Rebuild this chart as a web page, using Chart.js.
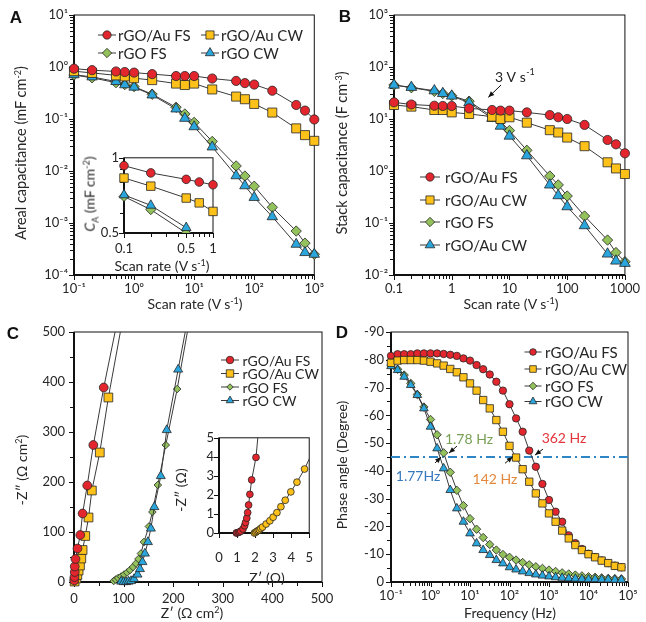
<!DOCTYPE html>
<html>
<head>
<meta charset="utf-8">
<script src="https://cdn.jsdelivr.net/npm/chart.js@4.4.1/dist/chart.umd.min.js"></script>
<style>
  body { margin: 0; background: #fff; }
  #fig { position: relative; width: 646px; height: 622px; overflow: hidden; font-family: Lato, sans-serif; color: #262626; }
  canvas { position: absolute; }
  .t { position: absolute; white-space: nowrap; font-size: 14px; line-height: 1; transform: translate(-50%, -50%); }
  .r { transform: translate(-50%, -50%) rotate(-90deg); }
  .t sup { font-size: 9px; vertical-align: 5px; line-height: 0; }
  .lt { position: absolute; font: bold 17px "Liberation Sans", Arial, sans-serif; transform: translate(-50%, -50%); color: #111; }
</style>
</head>
<body>
<div id="fig">
  <canvas id="cA"></canvas>
  <canvas id="cAin"></canvas>
  <canvas id="cB"></canvas>
  <canvas id="cC"></canvas>
  <canvas id="cCin"></canvas>
  <canvas id="cD"></canvas>

  <div class="lt" style="left:16px;top:18px">A</div>
  <div class="lt" style="left:345px;top:17px">B</div>
  <div class="lt" style="left:13px;top:334px">C</div>
  <div class="lt" style="left:342px;top:333px">D</div>

  <div class="t r" style="left:21px;top:153px;font-size:14.5px">Areal capacitance (mF cm<sup>-2</sup>)</div>
  <div class="t" style="left:195px;top:304px">Scan rate (V s<sup>-1</sup>)</div>
  <div class="t r" style="left:91px;top:194px"><i>C</i><sub style="font-size:9px">A</sub> (mF cm<sup>-2</sup>)</div>
  <div class="t" style="left:162px;top:266px">Scan rate (V s<sup>-1</sup>)</div>
  <div class="t r" style="left:342px;top:153px;font-size:14.5px">Stack capacitance (F cm<sup>-3</sup>)</div>
  <div class="t" style="left:511px;top:304px">Scan rate (V s<sup>-1</sup>)</div>
  <div class="t r" style="left:22px;top:470px">-Z″ (Ω cm<sup>2</sup>)</div>
  <div class="t" style="left:192px;top:613px">Z′ (Ω cm<sup>2</sup>)</div>
  <div class="t r" style="left:181px;top:490px">-Z″ (Ω)</div>
  <div class="t" style="left:267px;top:578px">Z′ (Ω)</div>
  <div class="t r" style="left:342px;top:465px">Phase angle (Degree)</div>
  <div class="t" style="left:510px;top:613px">Frequency (Hz)</div>
</div>

<script>
// ---- datos ----
const legendNames = ['rGO/Au FS', 'rGO/Au CW', 'rGO FS', 'rGO CW'];
const legendNamesB = ['rGO/Au FS', 'rGO/Au CW', 'rGO FS', 'rGO/Au CW'];

// A y B: velocidad de barrido (V/s)
const rates = [0.1, 0.2, 0.5, 0.7, 1, 2, 5, 7, 10, 20, 50, 70, 100, 200, 500, 700, 1000];
// A: capacitancia areal (mF cm-2)
const areaAuFS = [0.93, 0.87, 0.82, 0.80, 0.78, 0.73, 0.67, 0.67, 0.67, 0.60, 0.54, 0.49, 0.46, 0.35, 0.186, 0.145, 0.098];
const areaAuCW = [0.83, 0.77, 0.69, 0.66, 0.61, 0.56, 0.48, 0.45, 0.48, 0.37, 0.27, 0.24, 0.195, 0.133, 0.066, 0.049, 0.038];
const areaFS   = [0.70, 0.62, 0.50, 0.46, 0.42, 0.30, 0.168, 0.125, 0.086, 0.037, 0.0125, 0.008, 0.0051, 0.0020, 0.0007, 0.00041, 0.00025];
const areaCW   = [0.71, 0.645, 0.525, 0.455, 0.41, 0.29, 0.156, 0.103, 0.071, 0.029, 0.0081, 0.0052, 0.0031, 0.00132, 0.00039, 0.00027, 0.00025];
// B: capacitancia volumetrica (F cm-3)
const stackAuFS = [20.9, 19, 18, 17.8, 17.8, 16, 14.9, 14.5, 14.5, 13.4, 11.9, 10.8, 10, 7.7, 3.95, 3.26, 2.19];
const stackAuCW = [18.6, 17.3, 14.9, 14.9, 13.4, 12.5, 11.1, 10, 10.8, 8.5, 6.1, 5.5, 4.4, 3.0, 1.47, 1.12, 0.875];
const stackFS   = [45, 40, 34, 31, 28, 22, 11.1, 8.9, 6.0, 2.5, 0.80, 0.54, 0.33, 0.136, 0.047, 0.027, 0.018];
const stackCW   = [45, 40.7, 35, 31, 27.7, 20.6, 10.3, 7.3, 4.7, 1.97, 0.54, 0.336, 0.206, 0.089, 0.0254, 0.0186, 0.0168];

// C: Nyquist (ohm cm2), el ultimo punto sale por arriba del eje
const zReAuFS = [0.5, 1, 1.5, 1.5, 3, 7, 12.7, 17.3, 26.7, 39, 60, 89];
const zImAuFS = [3, 10, 20, 31, 46, 67, 94, 137, 193, 274, 389, 530];
const zReAuCW = [1.3, 4.7, 6.7, 9.3, 12, 14.7, 17.3, 22.7, 29.3, 36, 52, 69.3, 99];
const zImAuCW = [1, 7, 14, 23, 33, 47, 64, 92, 129, 183, 259, 369, 530];
const zReFS = [80, 84, 89, 95, 101, 107, 113, 119, 125, 130, 135, 141, 151, 158, 169, 185, 208, 234];
const zImFS = [2, 5, 8, 11, 15, 19, 24, 30, 37, 46, 57, 80, 111, 140, 194, 274, 386, 530];
const zReCW = [95, 100, 105, 110, 115, 121, 128, 133, 138, 143, 149, 155, 162, 175, 187, 210, 230];
const zImCW = [1, 0, 0, 1, 2, 6, 15, 26, 40, 57, 80, 107, 150, 212, 304, 425, 530];
// C recuadro (ohm)
const inReAuFS = [0.96, 1.0, 1.08, 1.15, 1.21, 1.33, 1.42, 1.47, 1.54, 1.59, 1.64, 1.71, 1.81, 2.05, 2.2];
const inImAuFS = [0.0, 0.01, 0.03, 0.06, 0.10, 0.21, 0.38, 0.55, 0.78, 1.07, 1.47, 2.03, 2.79, 3.97, 5.5];
const inReAuCW = [1.96, 2.03, 2.10, 2.17, 2.24, 2.32, 2.41, 2.61, 2.82, 3.0, 3.21, 3.43, 3.67, 3.98, 4.32, 4.74, 5.3];
const inImAuCW = [0.0, 0.04, 0.09, 0.13, 0.17, 0.24, 0.31, 0.47, 0.64, 0.83, 1.07, 1.38, 1.72, 2.16, 2.67, 3.36, 4.5];

// D: Bode (grados)
const freqHz = [0.1, 0.1468, 0.2154, 0.3162, 0.4642, 0.6813, 1, 1.468, 2.154, 3.162, 4.642, 6.813,
  10, 14.68, 21.54, 31.62, 46.42, 68.13, 100, 146.8, 215.4, 316.2, 464.2, 681.3,
  1000, 1468, 2154, 3162, 4642, 6813, 10000, 14680, 21540, 31620, 46420, 68130];
const phaseAuFS = [-81.4, -82.0, -82.0, -82.0, -82.3, -82.3, -82.3, -82.3, -82.1, -81.8, -81.4, -80.5,
  -79.7, -78.1, -76.6, -74.7, -72.1, -68.9, -64.0, -58.9, -54.1, -47.3, -41.5, -35.3,
  -29.5, -25.3, -21.7, -16.8, -14.0, -11.9, -10.2, -9.0, -7.8, -6.8, -5.9, -5.3];
const phaseAuCW = [-78.9, -79.7, -79.9, -79.9, -79.9, -79.7, -79.3, -78.7, -77.9, -76.7, -75.5, -73.7,
  -71.5, -68.9, -65.5, -62.5, -58.3, -54.1, -49.0, -44.8, -40.6, -36.1, -31.9, -28.3,
  -24.7, -21.7, -18.5, -15.7, -13.3, -11.5, -10.0, -8.9, -7.7, -6.8, -5.8, -5.3];
const phaseFS = [-78.1, -76.6, -74.5, -71.5, -67.5, -63.0, -58.5, -53.0, -46.5, -39.5, -33.0, -27.5,
  -22.8, -19.0, -16.0, -13.5, -11.5, -9.9, -8.9, -7.9, -7.0, -6.2, -5.5, -4.9,
  -4.3, -3.8, -3.3, -2.9, -2.5, -2.2, -1.9, -1.7, -1.5, -1.3, -1.2, -1.1];
const phaseCW = [-77.7, -76.3, -73.9, -70.9, -67.3, -62.5, -55.9, -48.1, -40.9, -33.1, -26.5, -21.7,
  -17.5, -13.9, -11.5, -9.7, -7.9, -6.7, -5.3, -4.5, -3.8, -3.2, -2.7, -2.3,
  -2.0, -1.7, -1.5, -1.3, -1.2, -1.1, -1.0, -1.0, -0.9, -0.9, -0.8, -0.8];
const halfHz = [0.1, 100000];
const halfPhase = [-45, -45];

// etiquetas de los ejes
const ticksAx = ['10⁻¹', '10⁰', '10¹', '10²', '10³'];
const ticksAy = ['10⁻⁴', '10⁻³', '10⁻²', '10⁻¹', '10⁰', '10¹'];
const ticksBx = ['0.1', '1', '10', '100', '1000'];
const ticksBy = ['10⁻²', '10⁻¹', '10⁰', '10¹', '10²', '10³'];
const ticksDx = ['10⁻¹', '10⁰', '10¹', '10²', '10³', '10⁴', '10⁵'];
const ticksAinX = [0.1, 0.5, 1];
const ticksAinY = [0.5, 1];

// ---- estilos ----
const LINE = '#3a3a3a';
const EDGE = '#262626';
const look = [
  { fill: '#e3262d', shape: 'circle' },
  { fill: '#fdc11a', shape: 'rect' },
  { fill: '#93c15b', shape: 'rectRot' },
  { fill: '#2aa6dd', shape: 'triangle' }
];

function pts(xs, ys) {
  return xs.map((x, i) => ({ x: x, y: ys[i] }));
}

function serie(label, xs, ys, k, r, more) {
  return Object.assign({
    label: label,
    data: pts(xs, ys),
    borderColor: LINE,
    borderWidth: 1,
    pointBackgroundColor: look[k].fill,
    pointBorderColor: EDGE,
    pointBorderWidth: 0.8,
    pointStyle: look[k].shape,
    pointRadius: r,
    tension: 0,
    clip: false,
    order: k === 2 ? 1 : 0, // los triangulos quedan encima de los rombos
    look: k
  }, more || {});
}

function logTicks(min, max) {
  const out = [];
  for (let e = Math.floor(Math.log10(min)); e <= Math.ceil(Math.log10(max)); e++) {
    for (let m = 1; m < 10; m++) {
      const v = +(m * Math.pow(10, e)).toPrecision(6);
      if (v >= min * 0.999 && v <= max * 1.001) out.push(v);
    }
  }
  return out;
}

function decade(labels, firstExp) {
  return v => {
    const l = Math.log10(v);
    const e = Math.round(l);
    return Math.abs(l - e) < 1e-6 ? labels[e - firstExp] : '';
  };
}

function tickFont(size) {
  return { family: 'Lato', size: size || 13 };
}

// dibuja un marcador igual que Chart.js
function mark(ctx, shape, x, y, r, fill) {
  ctx.beginPath();
  if (shape === 'circle') {
    ctx.arc(x, y, r, 0, Math.PI * 2);
  } else if (shape === 'rect') {
    const s = r * Math.SQRT1_2;
    ctx.rect(x - s, y - s, 2 * s, 2 * s);
  } else if (shape === 'rectRot') {
    ctx.moveTo(x - r, y); ctx.lineTo(x, y - r); ctx.lineTo(x + r, y); ctx.lineTo(x, y + r);
    ctx.closePath();
  } else {
    for (let k = 0; k < 3; k++) {
      const a = k * 2 * Math.PI / 3;
      const px = x + Math.sin(a) * r, py = y - Math.cos(a) * r;
      if (k) ctx.lineTo(px, py); else ctx.moveTo(px, py);
    }
    ctx.closePath();
  }
  ctx.fillStyle = fill;
  ctx.fill();
  ctx.lineWidth = 0.8;
  ctx.strokeStyle = EDGE;
  ctx.stroke();
}

// marco + marcas de los ejes
const frame = {
  id: 'frame',
  beforeDatasetsDraw(chart) {
    const ctx = chart.ctx, a = chart.chartArea;
    const xs = chart.scales.x, ys = chart.scales.y;
    ctx.save();
    ctx.strokeStyle = '#111';
    ctx.lineWidth = 1;
    ctx.strokeRect(a.left, a.top, a.right - a.left, a.bottom - a.top);
    ctx.lineWidth = 2;
    ctx.beginPath();
    ctx.moveTo(a.left, a.top);
    ctx.lineTo(a.left, a.bottom);
    ctx.lineTo(a.right, a.bottom);
    ctx.stroke();
    ctx.lineWidth = 1;
    ctx.beginPath();
    xs.ticks.forEach(t => {
      const p = Math.round(xs.getPixelForValue(t.value)) + 0.5;
      ctx.moveTo(p, a.bottom);
      ctx.lineTo(p, a.bottom + (t.label ? 5 : 4));
    });
    ys.ticks.forEach(t => {
      const p = Math.round(ys.getPixelForValue(t.value)) + 0.5;
      ctx.moveTo(a.left, p);
      ctx.lineTo(a.left - (t.label ? 5 : 4), p);
    });
    ctx.stroke();
    ctx.restore();
  }
};

// leyenda propia (posiciones en pixeles del lienzo)
const keyBox = {
  id: 'keyBox',
  afterDraw(chart, args, o) {
    if (!o || !o.items) return;
    const ctx = chart.ctx;
    ctx.save();
    ctx.font = o.size + 'px Lato';
    ctx.textBaseline = 'middle';
    o.items.forEach(it => {
      const ds = chart.data.datasets[it.i];
      ctx.strokeStyle = LINE;
      ctx.lineWidth = 1;
      ctx.beginPath();
      ctx.moveTo(it.x - o.half, it.y);
      ctx.lineTo(it.x + o.half, it.y);
      ctx.stroke();
      mark(ctx, look[ds.look].shape, it.x, it.y, ds.pointRadius * o.k, look[ds.look].fill);
      ctx.fillStyle = '#262626';
      ctx.fillText(it.text, it.x + o.gap, it.y + 1);
    });
    ctx.restore();
  }
};

// flechas y textos anclados a valores de los ejes
const notes = {
  id: 'notes',
  afterDraw(chart, args, o) {
    if (!o || !o.items) return;
    const ctx = chart.ctx;
    ctx.save();
    o.items.forEach(n => {
      const px = chart.scales.x.getPixelForValue(n.x);
      const py = chart.scales.y.getPixelForValue(n.y);
      const tx = px + n.tail[0], ty = py + n.tail[1];
      ctx.strokeStyle = '#111';
      ctx.fillStyle = '#111';
      ctx.lineWidth = 1;
      ctx.beginPath();
      ctx.moveTo(tx, ty);
      ctx.lineTo(px, py);
      ctx.stroke();
      const ang = Math.atan2(py - ty, px - tx);
      ctx.beginPath();
      ctx.moveTo(px, py);
      ctx.lineTo(px - 6 * Math.cos(ang) + 2.5 * Math.sin(ang), py - 6 * Math.sin(ang) - 2.5 * Math.cos(ang));
      ctx.lineTo(px - 6 * Math.cos(ang) - 2.5 * Math.sin(ang), py - 6 * Math.sin(ang) + 2.5 * Math.cos(ang));
      ctx.closePath();
      ctx.fill();
      ctx.font = (n.size || 14) + 'px Lato';
      ctx.fillStyle = n.color;
      ctx.textAlign = 'center';
      ctx.textBaseline = 'middle';
      ctx.fillText(n.text, px + n.label[0], py + n.label[1]);
      if (n.sup) {
        const w = ctx.measureText(n.text).width;
        ctx.font = '9px Lato';
        ctx.textAlign = 'left';
        ctx.fillText(n.sup, px + n.label[0] + w / 2 + 0.5, py + n.label[1] - 5);
      }
    });
    ctx.restore();
  }
};

function makeChart(id, box, sx, sy, datasets, key, note) {
  const cv = document.getElementById(id);
  cv.width = box.w;
  cv.height = box.h;
  cv.style.left = box.x + 'px';
  cv.style.top = box.y + 'px';
  const base = { grid: { display: false, drawTicks: false }, border: { display: false } };
  return new Chart(cv, {
    type: 'line',
    data: { datasets: datasets },
    options: {
      responsive: false,
      animation: false,
      events: [],
      layout: { padding: { left: 0, top: box.pt, right: box.pr, bottom: 0 } },
      scales: {
        x: Object.assign({ position: 'bottom', afterFit: s => { s.height = box.xh; } }, base, sx),
        y: Object.assign({ position: 'left', afterFit: s => { s.width = box.yw; } }, base, sy)
      },
      plugins: {
        legend: { display: false },
        tooltip: { enabled: false },
        keyBox: key || {},
        notes: note || {}
      }
    },
    plugins: [frame, keyBox, notes]
  });
}

function logAxis(min, max, cb, pad, size) {
  return {
    type: 'logarithmic', min: min, max: max,
    afterBuildTicks: s => { s.ticks = logTicks(min, max).map(v => ({ value: v })); },
    ticks: { callback: cb, autoSkip: false, maxRotation: 0, padding: pad, font: tickFont(size), color: '#262626' }
  };
}

function linAxis(min, max, step, every, pad, size, rev) {
  return {
    type: 'linear', min: min, max: max, reverse: !!rev,
    ticks: {
      stepSize: step, autoSkip: false, maxRotation: 0, padding: pad, font: tickFont(size), color: '#262626',
      callback: v => (Math.abs(v % every) < 1e-9 ? String(v) : '')
    }
  };
}

// ---- A ----
makeChart('cA', { x: 0, y: 0, w: 330, h: 310, yw: 74, pt: 15, pr: 14, xh: 35 },
  logAxis(0.1, 1000, decade(ticksAx, -1), 6),
  logAxis(0.0001, 10, decade(ticksAy, -4), 6),
  [
    serie(legendNames[0], rates, areaAuFS, 0, 4.6),
    serie(legendNames[1], rates, areaAuCW, 1, 6.4),
    serie(legendNames[2], rates, areaFS, 2, 5.2),
    serie(legendNames[3], rates, areaCW, 3, 6.0)
  ],
  { size: 15, half: 9, gap: 11, k: 0.9, items: [
    { i: 0, x: 107, y: 35, text: legendNames[0] },
    { i: 1, x: 210, y: 35, text: legendNames[1] },
    { i: 2, x: 107, y: 53, text: legendNames[2] },
    { i: 3, x: 210, y: 53, text: legendNames[3] }
  ] });

// recuadro de A
const clipIn = { left: 8, top: 8, right: 8, bottom: 0 };
makeChart('cAin', { x: 95, y: 145, w: 135, h: 115, yw: 29, pt: 11, pr: 17, xh: 27 },
  logAxis(0.1, 1, v => (ticksAinX.includes(v) ? String(v) : ''), 8),
  logAxis(0.5, 1, v => (ticksAinY.includes(v) ? String(v) : ''), 5),
  [
    serie('a', rates.slice(0, 5), areaAuFS.slice(0, 5), 0, 4.3, { clip: clipIn }),
    serie('b', rates.slice(0, 5), areaAuCW.slice(0, 5), 1, 6.0, { clip: clipIn }),
    serie('c', rates.slice(0, 6), areaFS.slice(0, 6), 2, 5.0, { clip: clipIn }),
    serie('d', rates.slice(0, 6), areaCW.slice(0, 6), 3, 5.6, { clip: clipIn })
  ]);

// ---- B ----
makeChart('cB', { x: 320, y: 0, w: 326, h: 310, yw: 74, pt: 15, pr: 19, xh: 35 },
  logAxis(0.1, 1000, decade(ticksBx, -1), 6),
  logAxis(0.01, 1000, decade(ticksBy, -2), 6),
  [
    serie(legendNamesB[0], rates, stackAuFS, 0, 4.6),
    serie(legendNamesB[1], rates, stackAuCW, 1, 6.4),
    serie(legendNamesB[2], rates, stackFS, 2, 5.2),
    serie(legendNamesB[3], rates, stackCW, 3, 6.2)
  ],
  { size: 15, half: 10, gap: 15, k: 0.9, items: [
    { i: 0, x: 110, y: 177, text: legendNamesB[0] },
    { i: 1, x: 110, y: 200, text: legendNamesB[1] },
    { i: 2, x: 110, y: 222, text: legendNamesB[2] },
    { i: 3, x: 110, y: 245, text: legendNamesB[3] }
  ] },
  { items: [ { x: 4.3, y: 26.1, tail: [12.7, -12.3], label: [22, -20], text: '3 V s', sup: '-1', color: '#222', size: 14 } ] });

// ---- C ----
const clipC = { left: 8, top: 0, right: 8, bottom: 8 };
makeChart('cC', { x: 0, y: 300, w: 345, h: 322, yw: 74, pt: 32, pr: 23, xh: 40 },
  linAxis(0, 500, 50, 100, 9),
  linAxis(0, 500, 50, 100, 9),
  [
    serie(legendNames[0], zReAuFS, zImAuFS, 0, 4.4, { clip: clipC }),
    serie(legendNames[1], zReAuCW, zImAuCW, 1, 6.2, { clip: clipC }),
    serie(legendNames[2], zReFS, zImFS, 2, 3.8, { clip: clipC }),
    serie(legendNames[3], zReCW, zImCW, 3, 5.2, { clip: clipC })
  ],
  { size: 14, half: 9, gap: 12.5, k: 0.85, items: [
    { i: 0, x: 230, y: 60, text: legendNames[0] },
    { i: 1, x: 230, y: 73.5, text: legendNames[1] },
    { i: 2, x: 230, y: 87, text: legendNames[2] },
    { i: 3, x: 230, y: 100.5, text: legendNames[3] }
  ] });

// recuadro de C
const clipCin = { left: 8, top: 0, right: 0, bottom: 8 };
makeChart('cCin', { x: 190, y: 425, w: 140, h: 140, yw: 29, pt: 12, pr: 13, xh: 32 },
  linAxis(0, 5, 1, 1, 17),
  linAxis(0, 5, 1, 1, 5),
  [
    serie('a', inReAuFS, inImAuFS, 0, 3.4, { clip: clipCin }),
    serie('b', inReAuCW, inImAuCW, 1, 3.4, { clip: clipCin, pointStyle: 'circle' })
  ]);

// ---- D ----
makeChart('cD', { x: 320, y: 300, w: 326, h: 322, yw: 71, pt: 32, pr: 18, xh: 40 },
  logAxis(0.1, 100000, decade(ticksDx, -1), 6),
  linAxis(-90, 0, 5, 10, 7, 13, true),
  [
    serie(legendNames[0], freqHz, phaseAuFS, 0, 3.7, { order: 1 }),
    serie(legendNames[1], freqHz, phaseAuCW, 1, 5.2),
    serie(legendNames[2], freqHz, phaseFS, 2, 4.2),
    serie(legendNames[3], freqHz, phaseCW, 3, 5.0),
    { label: '-45', data: pts(halfHz, halfPhase), borderColor: '#2f86c6', borderWidth: 2,
      borderDash: [9, 4, 2, 4], pointRadius: 0, clip: false, order: 2, look: 3 }
  ],
  { size: 15, half: 8.5, gap: 12, k: 0.9, items: [
    { i: 0, x: 213, y: 52, text: legendNames[0] },
    { i: 1, x: 213, y: 69, text: legendNames[1] },
    { i: 2, x: 213, y: 86, text: legendNames[2] },
    { i: 3, x: 213, y: 101.5, text: legendNames[3] }
  ] },
  { items: [
    { x: 443, y: -45.7, tail: [8, -6], label: [29, -17], text: '362 Hz', color: '#e3343c' },
    { x: 120.5, y: -45.1, tail: [-7.7, 6.6], label: [-17.7, 22.3], text: '142 Hz', color: '#e5883d' },
    { x: 2.94, y: -46.4, tail: [8, -7], label: [20, -14], text: '1.78 Hz', color: '#78a055' },
    { x: 1.85, y: -45, tail: [-6, 6], label: [-23, 19], text: '1.77Hz', color: '#3479bf' }
  ] });
</script>
</body>
</html>
